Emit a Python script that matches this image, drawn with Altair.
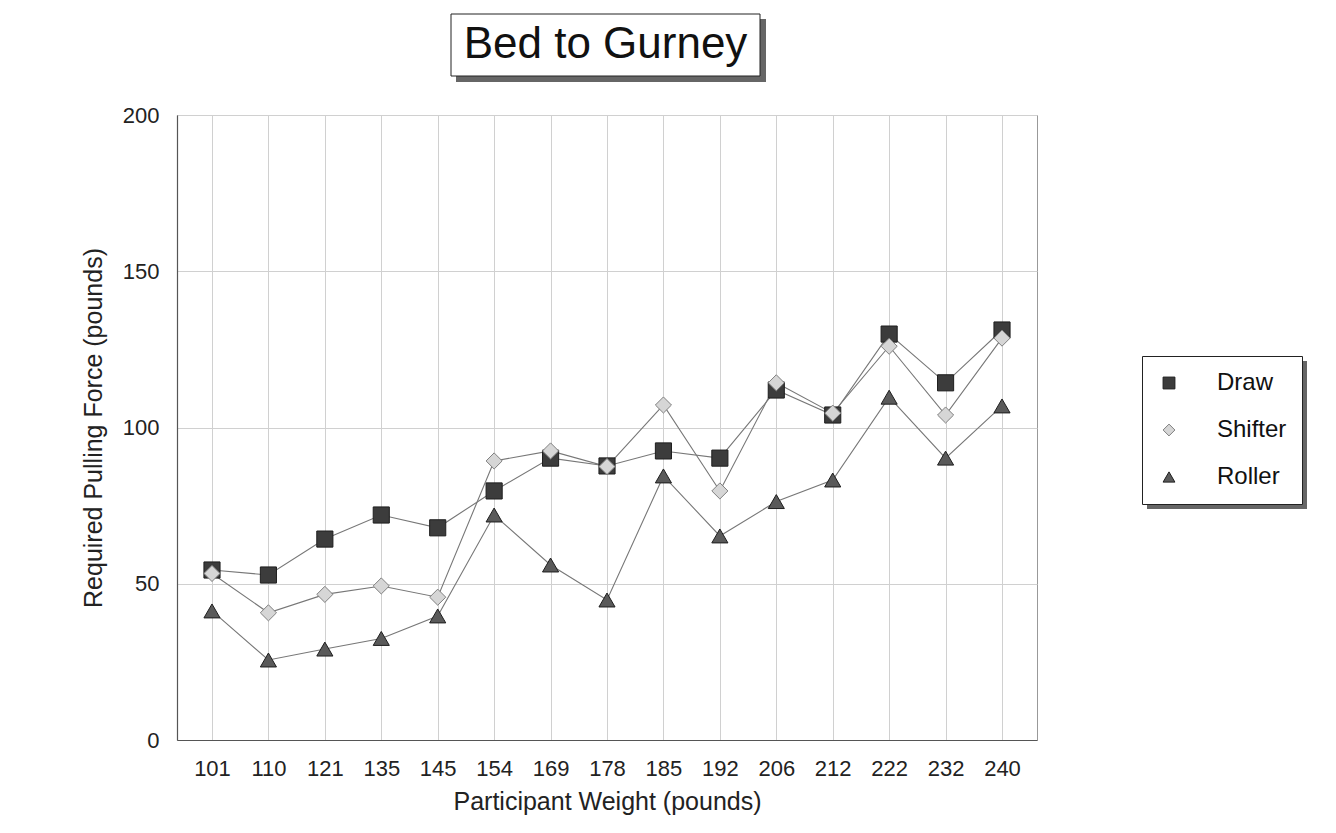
import altair as alt
import pandas as pd

# ---- data ----
weights = ["101", "110", "121", "135", "145", "154", "169", "178",
           "185", "192", "206", "212", "222", "232", "240"]
draw = [54.4, 52.8, 64.3, 72.0, 67.9, 79.7, 90.2, 87.7, 92.5, 90.2,
        112.0, 104.0, 129.9, 114.3, 131.2]
shifter = [53.3, 40.7, 46.6, 49.3, 45.7, 89.3, 92.5, 87.5, 107.2, 79.7,
           114.3, 104.6, 126.0, 104.0, 128.6]
roller = [41.3, 25.6, 29.1, 32.5, 39.7, 72.0, 56.0, 44.8, 84.5, 65.3,
          76.3, 83.2, 109.7, 90.2, 106.9]
series_names = ["Draw", "Shifter", "Roller"]
y_ticks = [0, 50, 100, 150, 200]
chart_title = "Bed to Gurney"
x_title = "Participant Weight (pounds)"
y_title = "Required Pulling Force (pounds)"

rows = []
for name, vals in zip(series_names, [draw, shifter, roller]):
    for i, (w, v) in enumerate(zip(weights, vals)):
        rows.append({"series": name, "weight": w, "idx": i, "force": v})
df = pd.DataFrame(rows)

FONT = "Liberation Sans"

x_enc = alt.X(
    "weight:N", sort=weights,
    scale=alt.Scale(type="point", padding=0.62),
    axis=alt.Axis(title=x_title, labelAngle=0, labelPadding=18,
                  titlePadding=10, grid=True),
)
y_enc = alt.Y(
    "force:Q",
    scale=alt.Scale(domain=[0, 200], nice=False),
    axis=alt.Axis(title=y_title, values=y_ticks, labelPadding=18,
                  titlePadding=16, grid=True),
)

base = alt.Chart(df)

lines = base.mark_line(color="#777777", strokeWidth=1.1).encode(
    x=x_enc, y=y_enc, detail="series:N", order="idx:Q"
)

points = base.mark_point(filled=True, opacity=1, strokeWidth=1, size=260).encode(
    x=x_enc, y=y_enc,
    shape=alt.Shape("series:N", scale=alt.Scale(
        domain=series_names, range=["square", "diamond", "triangle-up"]),
        legend=alt.Legend(title=None)),
    fill=alt.Fill("series:N", scale=alt.Scale(
        domain=series_names, range=["#3c3c3c", "#d6d6d6", "#5a5a5a"]),
        legend=alt.Legend(title=None)),
    stroke=alt.Stroke("series:N", scale=alt.Scale(
        domain=series_names, range=["#1e1e1e", "#808080", "#1e1e1e"]),
        legend=alt.Legend(title=None)),
)

one = pd.DataFrame({"a": [0]})

# title box with shadow
title_shadow = alt.Chart(one).mark_rect(fill="#666").encode(
    x=alt.value(279), x2=alt.value(589), y=alt.value(-96), y2=alt.value(-33)
)
title_box = alt.Chart(one).mark_rect(fill="white", stroke="#222", strokeWidth=1).encode(
    x=alt.value(274), x2=alt.value(583), y=alt.value(-101), y2=alt.value(-39)
)
title_text = alt.Chart(one).mark_text(
    font=FONT, fontSize=44, color="#111", align="center", baseline="middle"
).encode(x=alt.value(428.5), y=alt.value(-70), text=alt.value(chart_title))

# legend shadow strips
leg_shadow_r = alt.Chart(one).mark_rect(fill="#666").encode(
    x=alt.value(1124), x2=alt.value(1130), y=alt.value(246), y2=alt.value(394)
)
leg_shadow_b = alt.Chart(one).mark_rect(fill="#666").encode(
    x=alt.value(970), x2=alt.value(1130), y=alt.value(388), y2=alt.value(394)
)

chart = alt.layer(
    leg_shadow_r, leg_shadow_b, lines, points,
    title_shadow, title_box, title_text,
).properties(
    width=860, height=625,
    padding={"left": 169, "top": 107, "right": 291, "bottom": 80},
    autosize=alt.AutoSizeParams(type="none"),
    background="white",
).configure_view(
    stroke="#999", strokeWidth=1
).configure_axis(
    labelFont=FONT, labelFontSize=22, labelColor="#222",
    titleFont=FONT, titleFontSize=25, titleFontWeight="normal", titleColor="#222",
    gridColor="#d0d0d0", gridWidth=1, domainColor="#555", domainWidth=1.2,
    ticks=False,
).configure_legend(
    orient="none", legendX=965, legendY=241,
    padding=15, strokeColor="#222", fillColor="white",
    labelFont=FONT, labelFontSize=24, labelColor="#111",
    symbolSize=140, symbolOffset=0, labelOffset=36, rowPadding=23,
    symbolStrokeWidth=1,
)

chart.save("out.html", embed_options={"renderer": "svg", "actions": False})
